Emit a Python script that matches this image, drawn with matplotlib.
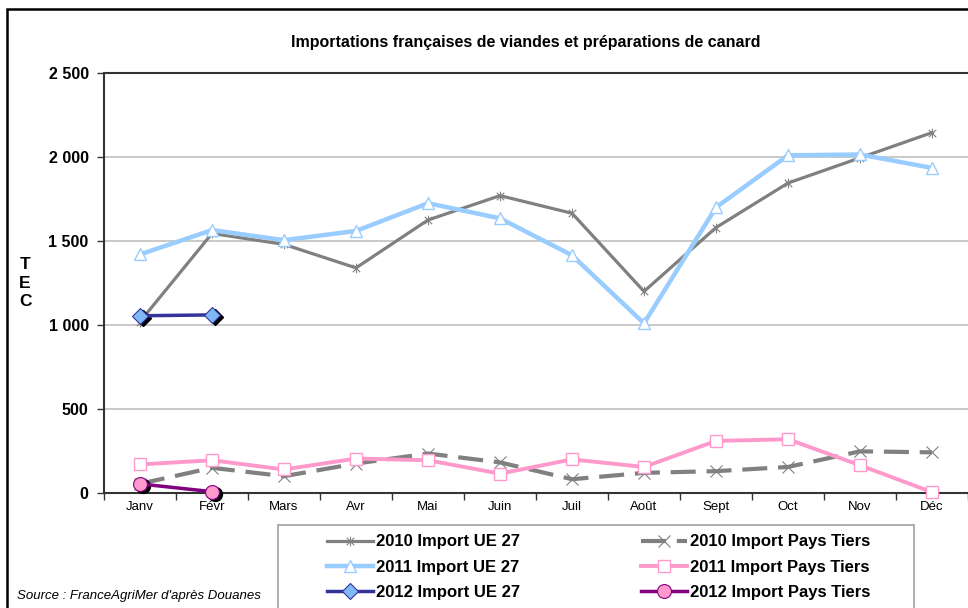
import matplotlib
matplotlib.use('Agg')
import matplotlib.pyplot as plt
import matplotlib.patches as mpatches
import matplotlib.transforms as mtransforms
from matplotlib.path import Path
from matplotlib.ticker import FuncFormatter, FixedLocator, NullFormatter

plt.rcParams['font.family'] = ['Liberation Sans', 'DejaVu Sans']

# données (TEC)
mois = ['Janv', 'Févr', 'Mars', 'Avr', 'Mai', 'Juin', 'Juil', 'Août',
        'Sept', 'Oct', 'Nov', 'Déc']
ue_2010 = [1020, 1545, 1480, 1340, 1625, 1770, 1665, 1200, 1580, 1845, 1995, 2145]
ue_2011 = [1420, 1565, 1505, 1560, 1725, 1635, 1415, 1010, 1700, 2010, 2015, 1935]
ue_2012 = [1055, 1060]
pt_2010 = [55, 150, 100, 175, 235, 182, 82, 120, 130, 155, 248, 242]
pt_2011 = [170, 195, 140, 205, 195, 115, 200, 155, 310, 320, 165, 5]
pt_2012 = [54, 8]

x_all = list(range(len(mois)))
x_2012 = x_all[:len(ue_2012)]

# marqueur étoile façon Excel
etoile = Path([(-1, -1), (1, 1), (-1, 1), (1, -1), (0, -1.3), (0, 1.3)],
              [Path.MOVETO, Path.LINETO, Path.MOVETO, Path.LINETO, Path.MOVETO, Path.LINETO])

fig = plt.figure(figsize=(9.68, 6.08), dpi=100)
ax = fig.add_axes([104/968, 115/608, 864/968, 420/608])

l1, = ax.plot(x_all, ue_2010, color='#808080', lw=2.3, marker=etoile, ms=7,
              mec='#808080', mew=0.8, clip_on=False, zorder=3)
l2, = ax.plot(x_all, ue_2011, color='#99CCFF', lw=3.2, marker='^', ms=9,
              mfc='white', mec='#99CCFF', mew=1.0, clip_on=False, zorder=3)
l4, = ax.plot(x_all, pt_2010, color='#808080', lw=3.0, linestyle=(0, (6, 2.6)),
              marker='x', ms=8, mec='#808080', mew=0.8, clip_on=False, zorder=3)
l5, = ax.plot(x_all, pt_2011, color='#FF99CC', lw=2.8, marker='s', ms=9,
              mfc='white', mec='#FF99CC', mew=1.0, clip_on=False, zorder=3)

# ombres des marqueurs 2012
ombre = ax.transData + mtransforms.ScaledTranslation(2.5/100, -2.5/100, fig.dpi_scale_trans)
ax.plot(x_2012, ue_2012, linestyle='none', marker='D', ms=8, mfc='black', mec='black',
        transform=ombre, clip_on=False, zorder=4)
ax.plot(x_2012, pt_2012, linestyle='none', marker='o', ms=10, mfc='black', mec='black',
        transform=ombre, clip_on=False, zorder=4)

l3, = ax.plot(x_2012, ue_2012, color='#333399', lw=2.5, marker='D', ms=8,
              mfc='#80B8F5', mec='#333399', mew=0.8, clip_on=False, zorder=5)
l6, = ax.plot(x_2012, pt_2012, color='#800080', lw=2.5, marker='o', ms=10,
              mfc='#FF99CC', mec='#800080', mew=0.8, clip_on=False, zorder=5)

ax.set_xlim(-0.5, 11.5)
ax.set_ylim(0, 2500)
ax.set_yticks([0, 500, 1000, 1500, 2000, 2500])
ax.yaxis.set_major_formatter(FuncFormatter(lambda v, p: f'{int(v):,}'.replace(',', ' ')))
ax.grid(axis='y', color='#C0C0C0', lw=1.2)
ax.set_axisbelow(True)

# ticks entre les catégories, étiquettes au centre
ax.xaxis.set_major_locator(FixedLocator([i - 0.5 for i in range(13)]))
ax.xaxis.set_major_formatter(NullFormatter())
ax.xaxis.set_minor_locator(FixedLocator(x_all))
ax.set_xticklabels(mois, minor=True)
ax.tick_params(axis='x', which='major', direction='out', length=5, width=1, color='#333333')
ax.tick_params(axis='x', which='minor', length=0, labelsize=9.5, pad=6)
ax.tick_params(axis='y', direction='out', length=5, width=1, color='#333333',
               labelsize=11.5, pad=6)
for lab in ax.get_yticklabels():
    lab.set_fontweight('bold')

for s in ['left', 'bottom', 'top']:
    ax.spines[s].set_color('#333333')
    ax.spines[s].set_linewidth(1.5)
ax.spines['right'].set_visible(False)

# titre et étiquette d'axe
fig.text(526/968, 1 - 42/608, 'Importations françaises de viandes et préparations de canard',
         ha='center', va='center', fontsize=11.5, fontweight='bold')
fig.text(25/968, 1 - 283/608, 'T\nE\nC', ha='center', va='center', fontsize=12.5,
         fontweight='bold', linespacing=1.3)
fig.text(17/968, 1 - 596/608, "Source : FranceAgriMer d'après Douanes", ha='left',
         va='center', fontsize=9.5, style='italic')

# légende
fig.add_artist(mpatches.Rectangle((278/968, -0.05), 636/968, 0.05 + 83/608,
                                  transform=fig.transFigure, facecolor='white',
                                  edgecolor='#A0A0A0', lw=1.2))
leg = fig.legend([l1, l2, l3, l4, l5, l6],
                 ['2010 Import UE 27', '2011 Import UE 27', '2012 Import UE 27',
                  '2010 Import Pays Tiers', '2011 Import Pays Tiers', '2012 Import Pays Tiers'],
                 ncol=2, loc='upper left', bbox_to_anchor=(319/968, 1 - 526/608),
                 frameon=False, prop={'weight': 'bold', 'size': 12},
                 handlelength=2.75, handletextpad=0.15, columnspacing=7.3,
                 labelspacing=0.62, borderpad=0)

# cadre du graphique
fig.add_artist(mpatches.Rectangle((7/968, -0.1), 1.1, 0.1 + 599/608,
                                  transform=fig.transFigure, fill=False,
                                  edgecolor='black', lw=1.8))

plt.savefig('out.png', dpi=100, facecolor='white')
plt.close()
